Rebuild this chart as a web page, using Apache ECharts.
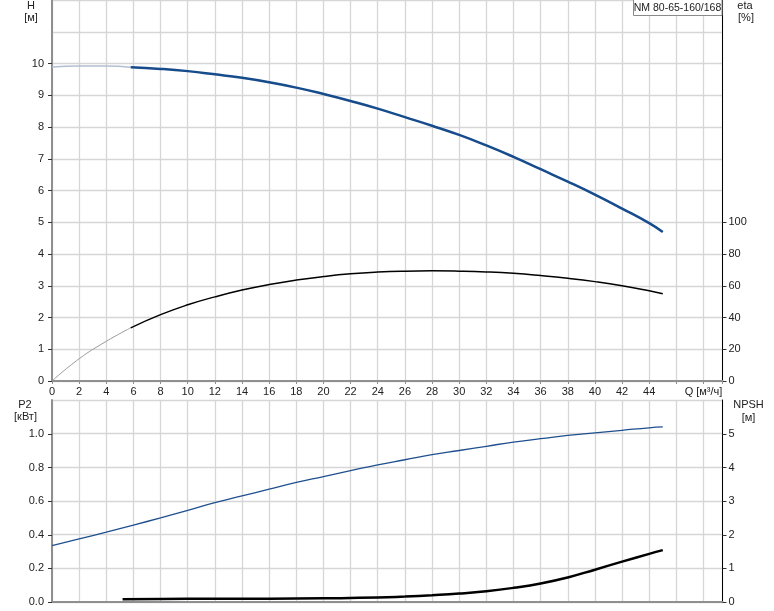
<!DOCTYPE html>
<html>
<head>
<meta charset="utf-8">
<script src="https://cdn.jsdelivr.net/npm/echarts@6/dist/echarts.min.js"></script>
<style>html,body{margin:0;padding:0;background:#fff}#c{width:774px;height:611px}</style>
</head>
<body>
<div id="c"></div>
<script>
// ---- data ----
const qHead   = [0, 2, 4, 5.8];
const hHead   = [9.89, 9.92, 9.92, 9.88];
const etaHead = [0, 14, 25, 33.5];

const qMain   = [5.8, 8, 10, 12, 14, 16, 18, 20, 22, 24, 26, 28, 30, 32, 34, 36, 38, 40, 42, 44, 45];
const hMain   = [9.88, 9.83, 9.76, 9.66, 9.55, 9.41, 9.24, 9.04, 8.82, 8.58, 8.31, 8.04, 7.75, 7.42, 7.06, 6.67, 6.28, 5.87, 5.43, 4.97, 4.69];
const etaMain = [33.5, 41.8, 48.0, 53.0, 57.3, 60.8, 63.6, 65.8, 67.5, 68.6, 69.2, 69.4, 69.2, 68.7, 67.8, 66.4, 64.7, 62.6, 60.0, 56.8, 55.0];

const qP2 = [0, 2, 4, 6, 8, 10, 12, 14, 16, 18, 20, 22, 24, 26, 28, 30, 32, 34, 36, 38, 40, 42, 44, 45];
const p2  = [0.335, 0.375, 0.415, 0.457, 0.50, 0.545, 0.59, 0.63, 0.67, 0.71, 0.745, 0.78, 0.815, 0.845, 0.875, 0.90, 0.925, 0.95, 0.97, 0.99, 1.005, 1.02, 1.035, 1.04];

const qNpsh = [5.2, 8, 12, 16, 20, 24, 26, 28, 30, 32, 34, 36, 38, 40, 42, 44, 45];
const npsh  = [0.08, 0.09, 0.10, 0.10, 0.11, 0.13, 0.16, 0.20, 0.25, 0.32, 0.42, 0.55, 0.73, 0.96, 1.20, 1.43, 1.54];

const qLabelsShown = [0, 2, 4, 6, 8, 10, 12, 14, 16, 18, 20, 22, 24, 26, 28, 30, 32, 34, 36, 38, 40, 42, 44];
const qUnitLabel = 'Q [м³/ч]';
const pumpName = 'NM 80-65-160/168';

// ---- chart ----
const pairs = (xs, ys) => xs.map((x, i) => [x, ys[i]]);
const FONT = 'Liberation Sans, Arial, sans-serif';
const TXT = '#222';
const GRID_C = '#d6d6d6';
const QMAX = 49.4;

const chart = echarts.init(document.getElementById('c'), null, {renderer: 'canvas'});

const L = 52, R = 774 - 722.5;
const grids = [
  {left: L, right: R, top: 0, height: 381},         // 0 top frame (H 0..12, eta 0..240)
  {left: L, right: R, top: 63.5, height: 317.5},    // 1 H labels 0..10
  {left: L, right: R, top: 222.25, height: 158.75}, // 2 eta labels 0..100
  {left: L, right: R, top: 400, height: 202},       // 3 bottom frame (P2 0..1.2, NPSH 0..6)
  {left: L, right: R, top: 434, height: 168}        // 4 P2 / NPSH labels
];

const hiddenX = (gi) => ({type: 'value', gridIndex: gi, min: 0, max: QMAX, interval: 2, show: false});

const xAxes = [
  {
    type: 'value', gridIndex: 0, min: 0, max: QMAX, interval: 2,
    axisLine: {show: true, onZero: false, lineStyle: {color: '#8f8f8f', width: 2}},
    axisTick: {show: true, length: 3, lineStyle: {color: '#8f8f8f'}},
    splitLine: {show: true, lineStyle: {color: GRID_C, width: 1.3}},
    axisLabel: {
      margin: 5, color: TXT, fontSize: 11, fontFamily: FONT, showMaxLabel: true,
      formatter: v => qLabelsShown.includes(v) ? String(v) : (v === 48 ? qUnitLabel : '')
    }
  },
  hiddenX(1),
  hiddenX(2),
  {
    type: 'value', gridIndex: 3, min: 0, max: QMAX, interval: 2,
    axisLine: {show: true, onZero: false, lineStyle: {color: '#8f8f8f', width: 2}},
    axisTick: {show: false},
    splitLine: {show: true, lineStyle: {color: GRID_C, width: 1.3}},
    axisLabel: {show: false}
  },
  hiddenX(4)
];

const frameY = (gi, max, interval, pos) => ({
  type: 'value', gridIndex: gi, min: 0, max: max, interval: interval, position: pos,
  axisLine: {show: true, onZero: false, lineStyle: pos === 'left' ? {color: '#8f8f8f', width: 2} : {color: '#000', width: 1}},
  axisTick: {show: false}, axisLabel: {show: false},
  splitLine: {show: pos === 'left', lineStyle: {color: GRID_C, width: 1.3}}
});
const labelY = (gi, max, interval, pos, fmt) => ({
  type: 'value', gridIndex: gi, min: 0, max: max, interval: interval, position: pos,
  axisLine: {show: false, onZero: false},
  axisTick: {show: true, length: 4, lineStyle: {color: '#333'}},
  splitLine: {show: false},
  axisLabel: {margin: pos === 'left' ? 8 : 6, color: TXT, fontSize: 11, fontFamily: FONT, formatter: fmt}
});

const yAxes = [
  frameY(0, 12, 1, 'left'),                          // 0 H frame
  frameY(0, 240, 20, 'right'),                       // 1 eta frame
  labelY(1, 10, 1, 'left', v => String(v)),          // 2 H labels
  labelY(2, 100, 20, 'right', v => String(v)),       // 3 eta labels
  frameY(3, 1.2, 0.2, 'left'),                       // 4 P2 frame
  frameY(3, 6, 1, 'right'),                          // 5 NPSH frame
  labelY(4, 1.0, 0.2, 'left', v => v.toFixed(1)),    // 6 P2 labels
  labelY(4, 5, 1, 'right', v => String(v))           // 7 NPSH labels
];

const line = (name, xi, yi, data, color, width) => ({
  name, type: 'line', xAxisIndex: xi, yAxisIndex: yi, data,
  smooth: 0.5, symbol: 'none', silent: true, z: 5,
  lineStyle: {color, width}
});

const txt = (x, y, t) => ({
  type: 'text', x, y,
  style: {text: t, fill: TXT, font: '11px ' + FONT, textAlign: 'center', textVerticalAlign: 'middle'}
});

chart.setOption({
  animation: false,
  backgroundColor: '#fff',
  grid: grids,
  xAxis: xAxes,
  yAxis: yAxes,
  series: [
    line('H head', 0, 0, pairs(qHead, hHead), '#b3bfd0', 1.5),
    line('H', 0, 0, pairs(qMain, hMain), '#164b8c', 2.5),
    line('eta head', 0, 1, pairs(qHead, etaHead), '#9a9a9a', 1),
    line('eta', 0, 1, pairs(qMain, etaMain), '#000', 1.5),
    line('P2', 3, 4, pairs(qP2, p2), '#1f4f8f', 1.3),
    line('NPSH', 3, 5, pairs(qNpsh, npsh), '#000', 2.5)
  ],
  graphic: [
    txt(31, 6, 'H'), txt(31, 18, '[м]'),
    txt(745, 6, 'eta'), txt(746, 18, '[%]'),
    txt(25, 405, 'P2'), txt(25.5, 417, '[кВт]'),
    txt(748.5, 405, 'NPSH'), txt(748.5, 418, '[м]'),
    {type: 'rect', shape: {x: 633.5, y: -1, width: 88.5, height: 16.5},
     style: {fill: '#fff', stroke: '#8a8a8a', lineWidth: 1}, z: 100},
    {type: 'text', x: 677.5, y: 8, z: 101,
     style: {text: pumpName, fill: TXT, font: '10.5px ' + FONT, textAlign: 'center', textVerticalAlign: 'middle'}}
  ]
});
</script>
</body>
</html>
